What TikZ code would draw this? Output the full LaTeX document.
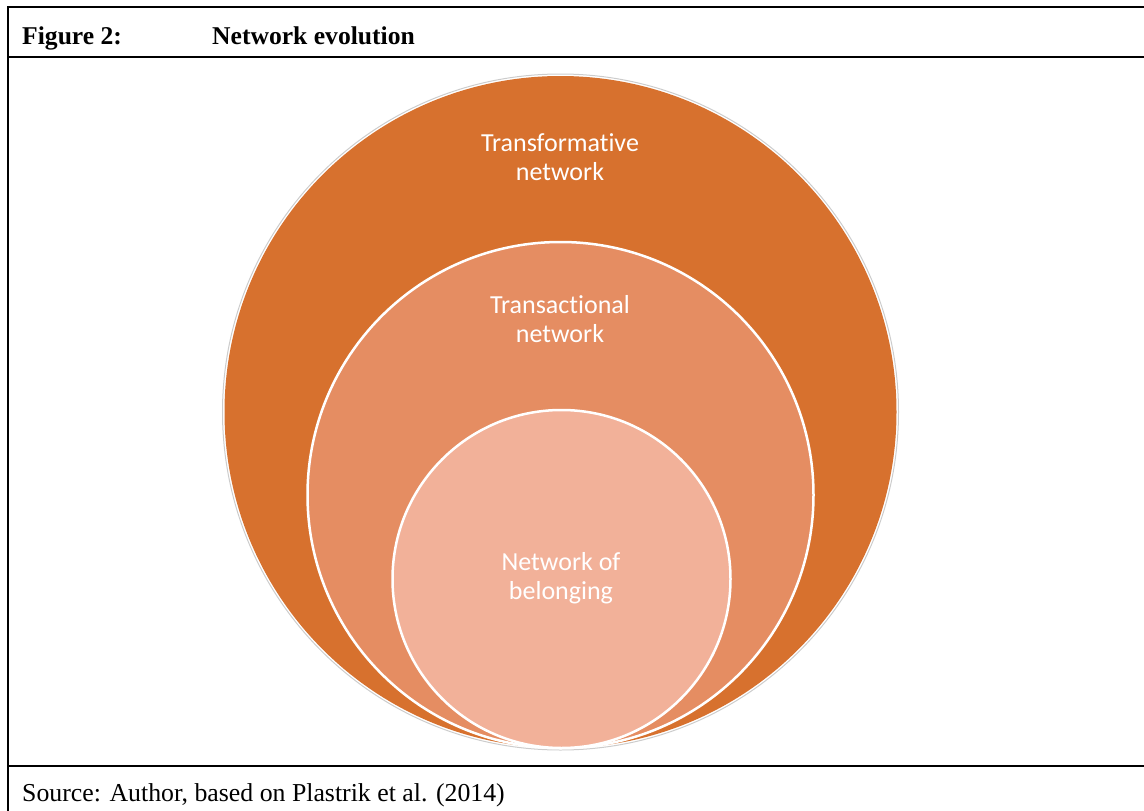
\documentclass[tikz,border=0pt]{standalone}
\usepackage{fontspec}
\setmainfont{Liberation Serif}
\newfontfamily\calib[Ligatures=CommonOff]{Carlito}
\definecolor{outerc}{RGB}{215,113,46}
\definecolor{midc}{RGB}{229,141,98}
\definecolor{innerc}{RGB}{242,177,153}
\begin{document}
\begin{tikzpicture}[x=1pt,y=-1pt,
  rule/.style={line width=2pt,black},
  ring/.style={draw=white,line width=2.5pt},
  lbl/.style={text=white,font=\calib\fontsize{26}{29}\selectfont,align=center},
  captxt/.style={anchor=base west,inner sep=0pt}]
\useasboundingbox (0,0) rectangle (1144,811);
% frame
\draw[rule] (8,7) -- (1144,7);
\draw[rule] (8,6) -- (8,811);
\draw[rule] (8,57) -- (1144,57);
\draw[rule] (8,766) -- (1144,766);
\node[captxt,font=\bfseries\fontsize{25.6}{28}\selectfont] (fig) at (22,44) {Figure 2:};
\node[captxt,font=\bfseries\fontsize{25.6}{28}\selectfont] (title) at (212,44) {Network evolution};
\node[captxt,font=\fontsize{25.8}{28}\selectfont] (src) at (22,801) {Source: Author, based on Plastrik et al. (2014)};
% circles
\draw[gray!40,line width=1pt] (560.5,412) circle (338);
\fill[outerc] (560.5,412) circle (336);
\draw[ring,fill=midc] (560.5,495) circle (253);
\draw[ring,fill=innerc] (561.5,579) circle (169);
\node[lbl] (t1) at (560,157) {Transformative\\network};
\node[lbl] (t2) at (560,319) {Transactional\\network};
\node[lbl] (t3) at (561,578) {Network of\\belonging};
\end{tikzpicture}
\end{document}
